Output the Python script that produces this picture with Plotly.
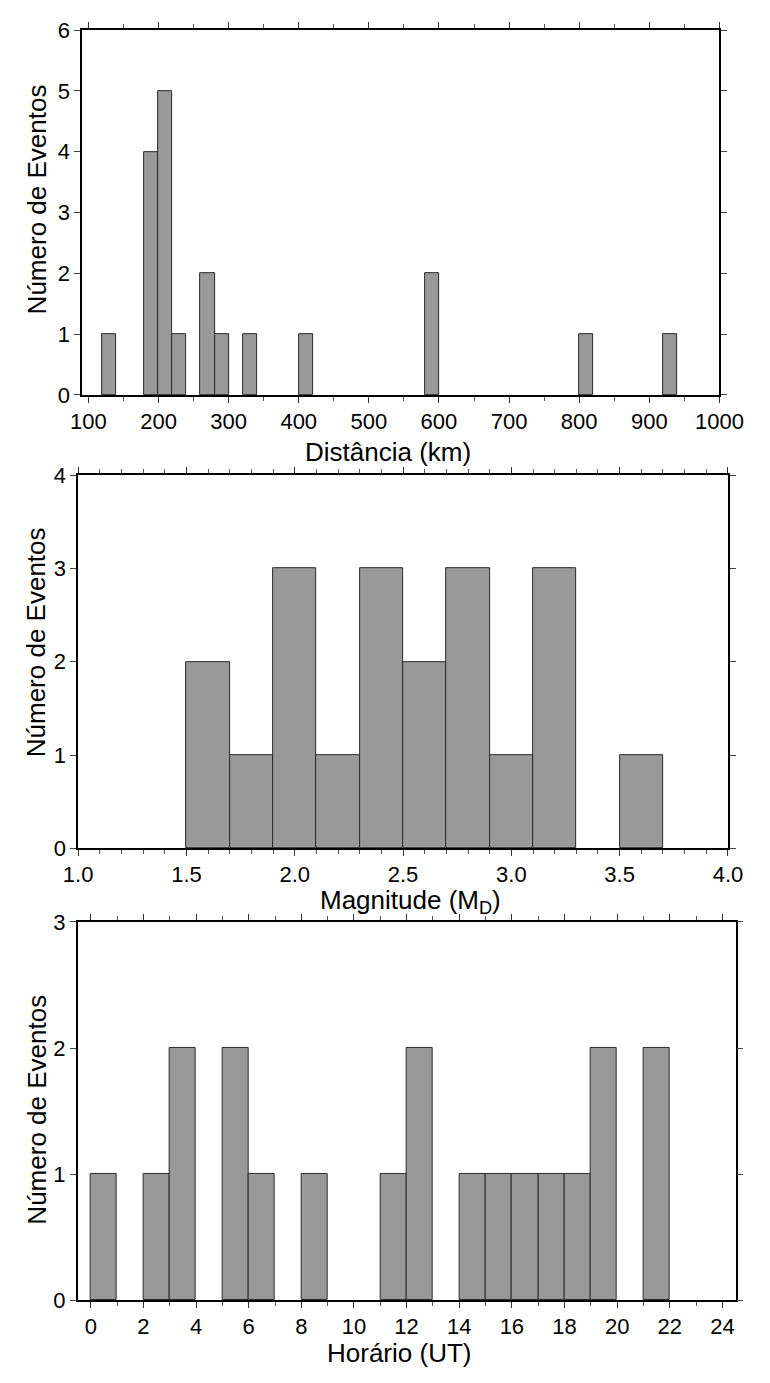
import plotly.graph_objects as go

# ---- data ----
dist_bin_start = [120, 180, 200, 220, 260, 280, 320, 400, 580, 800, 920]
dist_counts    = [1, 4, 5, 1, 2, 1, 1, 1, 2, 1, 1]
dist_bin_width = 20

mag_bin_start = [1.5, 1.7, 1.9, 2.1, 2.3, 2.5, 2.7, 2.9, 3.1, 3.5]
mag_counts    = [2, 1, 3, 1, 3, 2, 3, 1, 3, 1]
mag_bin_width = 0.2

hour_bin_start = [0, 2, 3, 5, 6, 8, 11, 12, 14, 15, 16, 17, 18, 19, 21]
hour_counts    = [1, 1, 2, 2, 1, 1, 1, 2, 1, 1, 1, 1, 1, 2, 2]
hour_bin_width = 1

y_title = "Número de Eventos"
x_titles = ["Distância (km)", "Magnitude (M<sub>D</sub>)", "Horário (UT)"]

W, H = 770, 1383
FONT = "Arial, Liberation Sans, Helvetica, sans-serif"
BAR_FILL = "#999999"
BAR_LINE = "#2a2a2a"

# panel geometry in pixels (left, right, top, bottom)
panels = [
    (70.7, 742, 18.5, 390),
    (66.5, 751, 471.7, 851.7),
    (66, 759, 926.7, 1312),
]
# title placement in pixels
xtitle_pos = [(393, 448), (417, 906), (405, 1366)]
ytitle_pos = [(23, 191), (23, 642), (23, 1118)]

fig = go.Figure()

series = [
    (dist_bin_start, dist_counts, dist_bin_width),
    (mag_bin_start, mag_counts, mag_bin_width),
    (hour_bin_start, hour_counts, hour_bin_width),
]
for i, (xs, ys, w) in enumerate(series):
    ax = "" if i == 0 else str(i + 1)
    fig.add_trace(go.Bar(
        x=xs, y=ys, width=[w] * len(xs), offset=0,
        marker=dict(color=BAR_FILL, line=dict(color=BAR_LINE, width=1)),
        xaxis="x" + ax, yaxis="y" + ax, showlegend=False,
    ))

xcfg = [
    dict(range=[91, 1000], tickvals=list(range(100, 1001, 100)), minor_dtick=50, tick0=0),
    dict(range=[1.0, 4.0], tickvals=[1.0, 1.5, 2.0, 2.5, 3.0, 3.5, 4.0],
         ticktext=["1.0", "1.5", "2.0", "2.5", "3.0", "3.5", "4.0"], minor_dtick=0.1, tick0=1.0),
    dict(range=[-0.5, 24.5], tickvals=list(range(0, 25, 2)), minor_dtick=1, tick0=0),
]
yranges = [[0, 6], [0, 4], [0, 3]]

layout = dict(
    width=W, height=H, margin=dict(l=0, r=0, t=0, b=0),
    paper_bgcolor="white", plot_bgcolor="white",
    font=dict(family=FONT, color="black"),
    bargap=0,
)
annotations = []
for i, (l, r, t, b) in enumerate(panels):
    ax = "" if i == 0 else str(i + 1)
    xd = [l / W, r / W]
    yd = [1 - b / H, 1 - t / H]
    c = xcfg[i]
    xa = dict(
        domain=xd, range=c["range"], anchor="y" + ax,
        tickmode="array", tickvals=c["tickvals"],
        showgrid=False, zeroline=False,
        showline=True, linecolor="black", linewidth=1.5, mirror="ticks",
        ticks="outside", ticklen=6, tickwidth=1, tickcolor="#333",
        tickfont=dict(size=22, family=FONT),
        minor=dict(ticks="outside", ticklen=4, tickwidth=1, tickcolor="#555",
                   dtick=c["minor_dtick"], tick0=c["tick0"], showgrid=False),
    )
    if "ticktext" in c:
        xa["ticktext"] = c["ticktext"]
    ya = dict(
        domain=yd, range=yranges[i], anchor="x" + ax,
        dtick=1, tick0=0, showgrid=False, zeroline=False,
        showline=True, linecolor="black", linewidth=1.5, mirror="ticks",
        ticks="outside", ticklen=6, tickwidth=1, tickcolor="#444",
        tickfont=dict(size=22, family=FONT),
    )
    layout["xaxis" + ax] = xa
    layout["yaxis" + ax] = ya

    tx, ty = xtitle_pos[i]
    annotations.append(dict(
        text=x_titles[i], xref="paper", yref="paper",
        x=tx / W, y=1 - ty / H, xanchor="center", yanchor="middle",
        showarrow=False, font=dict(size=26, family=FONT),
    ))
    yx, yy = ytitle_pos[i]
    annotations.append(dict(
        text=y_title, xref="paper", yref="paper",
        x=yx / W, y=1 - yy / H, xanchor="center", yanchor="middle",
        textangle=-90, showarrow=False, font=dict(size=26, family=FONT),
    ))

layout["annotations"] = annotations
fig.update_layout(**layout)
fig.write_html("out.html")
